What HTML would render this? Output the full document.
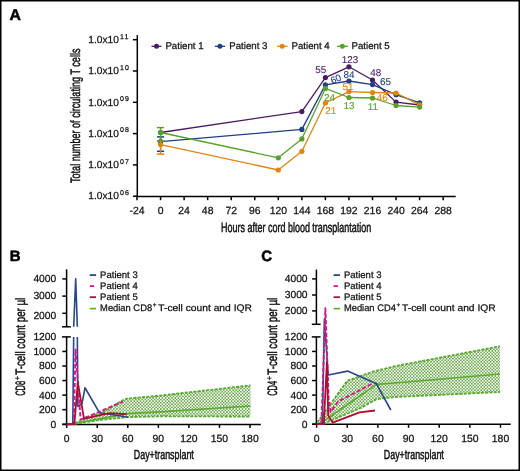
<!DOCTYPE html>
<html><head><meta charset="utf-8"><style>
html,body{margin:0;padding:0;background:#fff;}
#f{position:relative;width:520px;height:471px;overflow:hidden;background:#fff;}
svg{position:absolute;left:0;top:0;will-change:transform;}
text{font-family:"Liberation Sans", sans-serif;text-rendering:geometricPrecision;}
</style></head><body><div id="f">
<svg width="520" height="471" viewBox="0 0 520 471">
<defs>
<pattern id="chkB" width="2" height="2" patternUnits="userSpaceOnUse"><rect width="2" height="2" fill="#fff"/><rect width="1" height="1" fill="#4f9d28"/><rect x="1" y="1" width="1" height="1" fill="#4f9d28"/></pattern>
<pattern id="chkC" width="3.14" height="3.14" patternUnits="userSpaceOnUse"><rect width="3.14" height="3.14" fill="#fff"/><rect x="0.07" y="0.07" width="1.43" height="1.43" fill="#4a9a25"/><rect x="1.64" y="1.64" width="1.43" height="1.43" fill="#4a9a25"/></pattern>
<clipPath id="clBlo"><rect x="60" y="336.9" width="200" height="90"/></clipPath>
<clipPath id="clBup"><rect x="60" y="260" width="200" height="66.8"/></clipPath>
</defs>
<text x="9.60" y="20.40" font-size="15.8" text-anchor="start" fill="#000" font-weight="bold"  stroke="#000" stroke-width="0.5">A</text>
<line x1="137.30" y1="35.10" x2="137.30" y2="197.10" stroke="#000" stroke-width="1.5" />
<line x1="136.35" y1="196.40" x2="455.70" y2="196.40" stroke="#000" stroke-width="1.5" />
<line x1="132.90" y1="39.70" x2="137.30" y2="39.70" stroke="#000" stroke-width="1.5" />
<line x1="132.90" y1="71.00" x2="137.30" y2="71.00" stroke="#000" stroke-width="1.5" />
<line x1="132.90" y1="102.30" x2="137.30" y2="102.30" stroke="#000" stroke-width="1.5" />
<line x1="132.90" y1="133.60" x2="137.30" y2="133.60" stroke="#000" stroke-width="1.5" />
<line x1="132.90" y1="164.90" x2="137.30" y2="164.90" stroke="#000" stroke-width="1.5" />
<line x1="132.90" y1="196.20" x2="137.30" y2="196.20" stroke="#000" stroke-width="1.5" />
<line x1="137.00" y1="196.50" x2="137.00" y2="200.20" stroke="#000" stroke-width="1.5" />
<line x1="160.55" y1="196.50" x2="160.55" y2="200.20" stroke="#000" stroke-width="1.5" />
<line x1="184.10" y1="196.50" x2="184.10" y2="200.20" stroke="#000" stroke-width="1.5" />
<line x1="207.65" y1="196.50" x2="207.65" y2="200.20" stroke="#000" stroke-width="1.5" />
<line x1="231.20" y1="196.50" x2="231.20" y2="200.20" stroke="#000" stroke-width="1.5" />
<line x1="254.75" y1="196.50" x2="254.75" y2="200.20" stroke="#000" stroke-width="1.5" />
<line x1="278.30" y1="196.50" x2="278.30" y2="200.20" stroke="#000" stroke-width="1.5" />
<line x1="301.85" y1="196.50" x2="301.85" y2="200.20" stroke="#000" stroke-width="1.5" />
<line x1="325.40" y1="196.50" x2="325.40" y2="200.20" stroke="#000" stroke-width="1.5" />
<line x1="348.95" y1="196.50" x2="348.95" y2="200.20" stroke="#000" stroke-width="1.5" />
<line x1="372.50" y1="196.50" x2="372.50" y2="200.20" stroke="#000" stroke-width="1.5" />
<line x1="396.05" y1="196.50" x2="396.05" y2="200.20" stroke="#000" stroke-width="1.5" />
<line x1="419.60" y1="196.50" x2="419.60" y2="200.20" stroke="#000" stroke-width="1.5" />
<line x1="443.15" y1="196.50" x2="443.15" y2="200.20" stroke="#000" stroke-width="1.5" />
<text x="88.3" y="42.90" font-size="10.2" fill="#111" stroke="#111" stroke-width="0.25">1.0x10</text>
<text x="119.9" y="38.50" font-size="7" fill="#111" letter-spacing="1.2" stroke="#111" stroke-width="0.25">11</text>
<text x="88.3" y="74.20" font-size="10.2" fill="#111" stroke="#111" stroke-width="0.25">1.0x10</text>
<text x="119.9" y="69.80" font-size="7" fill="#111" letter-spacing="1.2" stroke="#111" stroke-width="0.25">10</text>
<text x="88.3" y="105.50" font-size="10.2" fill="#111" stroke="#111" stroke-width="0.25">1.0x10</text>
<text x="119.9" y="101.10" font-size="7" fill="#111" letter-spacing="1.2" stroke="#111" stroke-width="0.25">09</text>
<text x="88.3" y="136.80" font-size="10.2" fill="#111" stroke="#111" stroke-width="0.25">1.0x10</text>
<text x="119.9" y="132.40" font-size="7" fill="#111" letter-spacing="1.2" stroke="#111" stroke-width="0.25">08</text>
<text x="88.3" y="168.10" font-size="10.2" fill="#111" stroke="#111" stroke-width="0.25">1.0x10</text>
<text x="119.9" y="163.70" font-size="7" fill="#111" letter-spacing="1.2" stroke="#111" stroke-width="0.25">07</text>
<text x="88.3" y="199.40" font-size="10.2" fill="#111" stroke="#111" stroke-width="0.25">1.0x10</text>
<text x="119.9" y="195.00" font-size="7" fill="#111" letter-spacing="1.2" stroke="#111" stroke-width="0.25">06</text>
<text x="137.00" y="213.80" font-size="10.4" text-anchor="middle" fill="#111" font-weight="normal"  stroke="#111" stroke-width="0.25">-24</text>
<text x="160.55" y="213.80" font-size="10.4" text-anchor="middle" fill="#111" font-weight="normal"  stroke="#111" stroke-width="0.25">0</text>
<text x="184.10" y="213.80" font-size="10.4" text-anchor="middle" fill="#111" font-weight="normal"  stroke="#111" stroke-width="0.25">24</text>
<text x="207.65" y="213.80" font-size="10.4" text-anchor="middle" fill="#111" font-weight="normal"  stroke="#111" stroke-width="0.25">48</text>
<text x="231.20" y="213.80" font-size="10.4" text-anchor="middle" fill="#111" font-weight="normal"  stroke="#111" stroke-width="0.25">72</text>
<text x="254.75" y="213.80" font-size="10.4" text-anchor="middle" fill="#111" font-weight="normal"  stroke="#111" stroke-width="0.25">96</text>
<text x="278.30" y="213.80" font-size="10.4" text-anchor="middle" fill="#111" font-weight="normal"  stroke="#111" stroke-width="0.25">120</text>
<text x="301.85" y="213.80" font-size="10.4" text-anchor="middle" fill="#111" font-weight="normal"  stroke="#111" stroke-width="0.25">144</text>
<text x="325.40" y="213.80" font-size="10.4" text-anchor="middle" fill="#111" font-weight="normal"  stroke="#111" stroke-width="0.25">168</text>
<text x="348.95" y="213.80" font-size="10.4" text-anchor="middle" fill="#111" font-weight="normal"  stroke="#111" stroke-width="0.25">192</text>
<text x="372.50" y="213.80" font-size="10.4" text-anchor="middle" fill="#111" font-weight="normal"  stroke="#111" stroke-width="0.25">216</text>
<text x="396.05" y="213.80" font-size="10.4" text-anchor="middle" fill="#111" font-weight="normal"  stroke="#111" stroke-width="0.25">240</text>
<text x="419.60" y="213.80" font-size="10.4" text-anchor="middle" fill="#111" font-weight="normal"  stroke="#111" stroke-width="0.25">264</text>
<text x="443.15" y="213.80" font-size="10.4" text-anchor="middle" fill="#111" font-weight="normal"  stroke="#111" stroke-width="0.25">288</text>
<text transform="translate(80.2,115.75) rotate(-90)" x="0" y="0" font-size="13.6" text-anchor="middle" fill="#111" class="cond" textLength="134.5" lengthAdjust="spacingAndGlyphs" stroke="#111" stroke-width="0.5">Total number of circulating T cells</text>
<text x="221.0" y="231.8" font-size="13.5" fill="#111" class="cond" textLength="150.3" lengthAdjust="spacingAndGlyphs" stroke="#111" stroke-width="0.5">Hours after cord blood transplantation</text>
<line x1="151.50" y1="46.30" x2="161.50" y2="46.30" stroke="#4b1a63" stroke-width="1.3" />
<circle cx="156.5" cy="46.3" r="2.5" fill="#4b1a63"/>
<text x="165.4" y="49.2" font-size="9.7" fill="#111" stroke="#111" stroke-width="0.25">Patient 1</text>
<line x1="214.80" y1="46.30" x2="225.00" y2="46.30" stroke="#1f3f80" stroke-width="1.3" />
<circle cx="219.9" cy="46.3" r="2.5" fill="#1f3f80"/>
<text x="229.2" y="49.2" font-size="9.7" fill="#111" stroke="#111" stroke-width="0.25">Patient 3</text>
<line x1="277.00" y1="46.30" x2="287.50" y2="46.30" stroke="#e0850f" stroke-width="1.3" />
<circle cx="282.2" cy="46.3" r="2.5" fill="#e0850f"/>
<text x="291.5" y="49.2" font-size="9.7" fill="#111" stroke="#111" stroke-width="0.25">Patient 4</text>
<line x1="337.00" y1="46.30" x2="348.00" y2="46.30" stroke="#5aa02a" stroke-width="1.3" />
<circle cx="342.4" cy="46.3" r="2.5" fill="#5aa02a"/>
<text x="351.5" y="49.2" font-size="9.7" fill="#111" stroke="#111" stroke-width="0.25">Patient 5</text>
<polyline points="160.55,132.50 301.85,111.60 325.40,77.60 348.95,66.80 372.50,80.00 396.05,102.10 419.60,105.00" fill="none" stroke="#4b1a63" stroke-width="1.3" stroke-linejoin="round" />
<circle cx="160.55" cy="132.50" r="2.6" fill="#4b1a63"/>
<circle cx="301.85" cy="111.60" r="2.6" fill="#4b1a63"/>
<circle cx="325.40" cy="77.60" r="2.6" fill="#4b1a63"/>
<circle cx="348.95" cy="66.80" r="2.6" fill="#4b1a63"/>
<circle cx="372.50" cy="80.00" r="2.6" fill="#4b1a63"/>
<circle cx="396.05" cy="102.10" r="2.6" fill="#4b1a63"/>
<circle cx="419.60" cy="105.00" r="2.6" fill="#4b1a63"/>
<line x1="160.55" y1="136.90" x2="160.55" y2="151.30" stroke="#1f3f80" stroke-width="1.3" />
<line x1="156.95" y1="136.90" x2="164.15" y2="136.90" stroke="#1f3f80" stroke-width="1.5" />
<line x1="156.95" y1="151.30" x2="164.15" y2="151.30" stroke="#1f3f80" stroke-width="1.5" />
<polyline points="160.55,141.70 301.85,129.40 325.40,84.90 348.95,81.00 372.50,84.60 396.05,94.70 419.60,102.80" fill="none" stroke="#1f3f80" stroke-width="1.3" stroke-linejoin="round" />
<circle cx="160.55" cy="141.70" r="2.6" fill="#1f3f80"/>
<circle cx="301.85" cy="129.40" r="2.6" fill="#1f3f80"/>
<circle cx="325.40" cy="84.90" r="2.6" fill="#1f3f80"/>
<circle cx="348.95" cy="81.00" r="2.6" fill="#1f3f80"/>
<circle cx="372.50" cy="84.60" r="2.6" fill="#1f3f80"/>
<circle cx="396.05" cy="94.70" r="2.6" fill="#1f3f80"/>
<circle cx="419.60" cy="102.80" r="2.6" fill="#1f3f80"/>
<line x1="160.55" y1="141.00" x2="160.55" y2="154.10" stroke="#e0850f" stroke-width="1.3" />
<line x1="156.95" y1="141.00" x2="164.15" y2="141.00" stroke="#e0850f" stroke-width="1.5" />
<line x1="156.95" y1="154.10" x2="164.15" y2="154.10" stroke="#e0850f" stroke-width="1.5" />
<polyline points="160.55,144.60 278.30,170.00 301.85,151.30 325.40,103.00 348.95,91.60 372.50,92.50 396.05,93.00 419.60,104.80" fill="none" stroke="#e0850f" stroke-width="1.3" stroke-linejoin="round" />
<circle cx="160.55" cy="144.60" r="2.6" fill="#e0850f"/>
<circle cx="278.30" cy="170.00" r="2.6" fill="#e0850f"/>
<circle cx="301.85" cy="151.30" r="2.6" fill="#e0850f"/>
<circle cx="325.40" cy="103.00" r="2.6" fill="#e0850f"/>
<circle cx="348.95" cy="91.60" r="2.6" fill="#e0850f"/>
<circle cx="372.50" cy="92.50" r="2.6" fill="#e0850f"/>
<circle cx="396.05" cy="93.00" r="2.6" fill="#e0850f"/>
<circle cx="419.60" cy="104.80" r="2.6" fill="#e0850f"/>
<line x1="160.55" y1="127.60" x2="160.55" y2="140.80" stroke="#5aa02a" stroke-width="1.3" />
<line x1="156.95" y1="127.60" x2="164.15" y2="127.60" stroke="#5aa02a" stroke-width="1.5" />
<line x1="156.95" y1="140.80" x2="164.15" y2="140.80" stroke="#5aa02a" stroke-width="1.5" />
<polyline points="160.55,132.50 278.30,157.80 301.85,138.90 325.40,88.40 348.95,97.50 372.50,98.00 396.05,105.50 419.60,107.10" fill="none" stroke="#5aa02a" stroke-width="1.3" stroke-linejoin="round" />
<circle cx="160.55" cy="132.50" r="2.6" fill="#5aa02a"/>
<circle cx="278.30" cy="157.80" r="2.6" fill="#5aa02a"/>
<circle cx="301.85" cy="138.90" r="2.6" fill="#5aa02a"/>
<circle cx="325.40" cy="88.40" r="2.6" fill="#5aa02a"/>
<circle cx="348.95" cy="97.50" r="2.6" fill="#5aa02a"/>
<circle cx="372.50" cy="98.00" r="2.6" fill="#5aa02a"/>
<circle cx="396.05" cy="105.50" r="2.6" fill="#5aa02a"/>
<circle cx="419.60" cy="107.10" r="2.6" fill="#5aa02a"/>
<text x="320.70" y="73.00" font-size="9.9" text-anchor="middle" fill="#4b1a63" font-weight="normal"  stroke="#4b1a63" stroke-width="0.1">55</text>
<text x="349.90" y="62.90" font-size="9.9" text-anchor="middle" fill="#4b1a63" font-weight="normal"  stroke="#4b1a63" stroke-width="0.1">123</text>
<text x="375.70" y="75.60" font-size="9.9" text-anchor="middle" fill="#4b1a63" font-weight="normal"  stroke="#4b1a63" stroke-width="0.1">48</text>
<text x="348.90" y="78.10" font-size="9.9" text-anchor="middle" fill="#1f3f80" font-weight="normal"  stroke="#1f3f80" stroke-width="0.1">84</text>
<text x="385.60" y="84.50" font-size="9.9" text-anchor="middle" fill="#1f3f80" font-weight="normal"  stroke="#1f3f80" stroke-width="0.1">65</text>
<text x="348.00" y="90.30" font-size="9.9" text-anchor="middle" fill="#e0850f" font-weight="normal"  stroke="#e0850f" stroke-width="0.1">51</text>
<text x="330.80" y="113.50" font-size="9.9" text-anchor="middle" fill="#e0850f" font-weight="normal"  stroke="#e0850f" stroke-width="0.1">21</text>
<text x="382.20" y="100.90" font-size="9.9" text-anchor="middle" fill="#e0850f" font-weight="normal"  stroke="#e0850f" stroke-width="0.1">46</text>
<text x="329.50" y="100.50" font-size="9.9" text-anchor="middle" fill="#5aa02a" font-weight="normal"  stroke="#5aa02a" stroke-width="0.1">24</text>
<text x="349.00" y="108.50" font-size="9.9" text-anchor="middle" fill="#5aa02a" font-weight="normal"  stroke="#5aa02a" stroke-width="0.1">13</text>
<text x="372.80" y="109.60" font-size="9.9" text-anchor="middle" fill="#5aa02a" font-weight="normal"  stroke="#5aa02a" stroke-width="0.1">11</text>
<text transform="translate(335.8,78.8) rotate(-22)" x="0" y="3.4" font-size="9.6" text-anchor="middle" fill="#1f3f80" stroke="#1f3f80" stroke-width="0.1">60</text>
<line x1="66.60" y1="269.30" x2="66.60" y2="326.80" stroke="#000" stroke-width="1.5" />
<line x1="62.00" y1="326.80" x2="70.80" y2="326.80" stroke="#000" stroke-width="1.5" />
<line x1="62.30" y1="278.90" x2="66.60" y2="278.90" stroke="#000" stroke-width="1.5" />
<text x="56.3" y="282.20" font-size="10.3" text-anchor="end" fill="#111" stroke="#111" stroke-width="0.25">4000</text>
<line x1="62.30" y1="296.10" x2="66.60" y2="296.10" stroke="#000" stroke-width="1.5" />
<text x="56.3" y="299.40" font-size="10.3" text-anchor="end" fill="#111" stroke="#111" stroke-width="0.25">3000</text>
<line x1="62.30" y1="313.30" x2="66.60" y2="313.30" stroke="#000" stroke-width="1.5" />
<text x="56.3" y="318.70" font-size="10.3" text-anchor="end" fill="#111" stroke="#111" stroke-width="0.25">2000</text>
<line x1="66.60" y1="336.90" x2="66.60" y2="424.40" stroke="#000" stroke-width="1.5" />
<line x1="62.00" y1="336.90" x2="70.80" y2="336.90" stroke="#000" stroke-width="1.5" />
<text x="56.3" y="340.30" font-size="10.3" text-anchor="end" fill="#111" stroke="#111" stroke-width="0.25">1200</text>
<line x1="62.30" y1="351.45" x2="66.60" y2="351.45" stroke="#000" stroke-width="1.5" />
<text x="56.3" y="354.85" font-size="10.3" text-anchor="end" fill="#111" stroke="#111" stroke-width="0.25">1000</text>
<line x1="62.30" y1="366.00" x2="66.60" y2="366.00" stroke="#000" stroke-width="1.5" />
<text x="56.3" y="369.40" font-size="10.3" text-anchor="end" fill="#111" stroke="#111" stroke-width="0.25">800</text>
<line x1="62.30" y1="380.55" x2="66.60" y2="380.55" stroke="#000" stroke-width="1.5" />
<text x="56.3" y="383.95" font-size="10.3" text-anchor="end" fill="#111" stroke="#111" stroke-width="0.25">600</text>
<line x1="62.30" y1="395.10" x2="66.60" y2="395.10" stroke="#000" stroke-width="1.5" />
<text x="56.3" y="398.50" font-size="10.3" text-anchor="end" fill="#111" stroke="#111" stroke-width="0.25">400</text>
<line x1="62.30" y1="409.65" x2="66.60" y2="409.65" stroke="#000" stroke-width="1.5" />
<text x="56.3" y="413.05" font-size="10.3" text-anchor="end" fill="#111" stroke="#111" stroke-width="0.25">200</text>
<line x1="62.30" y1="424.20" x2="66.60" y2="424.20" stroke="#000" stroke-width="1.5" />
<text x="56.3" y="427.60" font-size="10.3" text-anchor="end" fill="#111" stroke="#111" stroke-width="0.25">0</text>
<line x1="62.30" y1="424.40" x2="260.80" y2="424.40" stroke="#000" stroke-width="1.5" />
<line x1="66.70" y1="424.40" x2="66.70" y2="427.90" stroke="#000" stroke-width="1.5" />
<text x="66.70" y="441.60" font-size="10.4" text-anchor="middle" fill="#111" font-weight="normal"  stroke="#111" stroke-width="0.25">0</text>
<line x1="97.25" y1="424.40" x2="97.25" y2="427.90" stroke="#000" stroke-width="1.5" />
<text x="97.25" y="441.60" font-size="10.4" text-anchor="middle" fill="#111" font-weight="normal"  stroke="#111" stroke-width="0.25">30</text>
<line x1="127.81" y1="424.40" x2="127.81" y2="427.90" stroke="#000" stroke-width="1.5" />
<text x="127.81" y="441.60" font-size="10.4" text-anchor="middle" fill="#111" font-weight="normal"  stroke="#111" stroke-width="0.25">60</text>
<line x1="158.37" y1="424.40" x2="158.37" y2="427.90" stroke="#000" stroke-width="1.5" />
<text x="158.37" y="441.60" font-size="10.4" text-anchor="middle" fill="#111" font-weight="normal"  stroke="#111" stroke-width="0.25">90</text>
<line x1="188.92" y1="424.40" x2="188.92" y2="427.90" stroke="#000" stroke-width="1.5" />
<text x="188.92" y="441.60" font-size="10.4" text-anchor="middle" fill="#111" font-weight="normal"  stroke="#111" stroke-width="0.25">120</text>
<line x1="219.48" y1="424.40" x2="219.48" y2="427.90" stroke="#000" stroke-width="1.5" />
<text x="219.48" y="441.60" font-size="10.4" text-anchor="middle" fill="#111" font-weight="normal"  stroke="#111" stroke-width="0.25">150</text>
<line x1="250.03" y1="424.40" x2="250.03" y2="427.90" stroke="#000" stroke-width="1.5" />
<text x="250.03" y="441.60" font-size="10.4" text-anchor="middle" fill="#111" font-weight="normal"  stroke="#111" stroke-width="0.25">180</text>
<text x="133.8" y="458.6" font-size="13.2" fill="#111" class="cond" textLength="60" lengthAdjust="spacingAndGlyphs" stroke="#111" stroke-width="0.5">Day+transplant</text>
<g transform="translate(25.1,346.85) rotate(-90)"><text x="-49" y="0" font-size="13.6" fill="#111" class="cond" textLength="15" lengthAdjust="spacingAndGlyphs" stroke="#111" stroke-width="0.5">CD8</text><text x="-33.6" y="-5.3" font-size="8" fill="#111" stroke="#111" stroke-width="0.25">+</text><text x="-27.8" y="0" font-size="13.6" fill="#111" class="cond" textLength="76.9" lengthAdjust="spacingAndGlyphs" stroke="#111" stroke-width="0.5">T-cell count per µl</text></g>
<text x="9.80" y="261.20" font-size="15" text-anchor="start" fill="#000" font-weight="bold"  stroke="#000" stroke-width="0.5">B</text>
<line x1="89.80" y1="275.10" x2="96.10" y2="275.10" stroke="#28478a" stroke-width="1.8" />
<line x1="89.80" y1="286.10" x2="96.10" y2="286.10" stroke="#d5168a" stroke-width="1.8" stroke-dasharray="4.3 2"/>
<line x1="89.80" y1="297.20" x2="96.10" y2="297.20" stroke="#b00c30" stroke-width="1.8" />
<line x1="89.80" y1="308.60" x2="96.10" y2="308.60" stroke="#5aaa32" stroke-width="1.6" />
<text x="100.10" y="278.00" font-size="9.5" fill="#111" textLength="37.6" lengthAdjust="spacingAndGlyphs" stroke="#111" stroke-width="0.25">Patient 3</text>
<text x="100.10" y="289.00" font-size="9.5" fill="#111" textLength="37.6" lengthAdjust="spacingAndGlyphs" stroke="#111" stroke-width="0.25">Patient 4</text>
<text x="100.10" y="300.10" font-size="9.5" fill="#111" textLength="37.6" lengthAdjust="spacingAndGlyphs" stroke="#111" stroke-width="0.25">Patient 5</text>
<text x="100.10" y="311.20" font-size="9.5" fill="#111" textLength="52" lengthAdjust="spacingAndGlyphs" stroke="#111" stroke-width="0.25">Median CD8</text>
<text x="152.70" y="307.30" font-size="6.5" fill="#111" stroke="#111" stroke-width="0.25">+</text>
<text x="158.30" y="311.20" font-size="9.5" fill="#111" textLength="93.6" lengthAdjust="spacingAndGlyphs" stroke="#111" stroke-width="0.25">T-cell count and IQR</text>
<line x1="316.40" y1="269.60" x2="316.40" y2="324.30" stroke="#000" stroke-width="1.5" />
<line x1="311.80" y1="324.30" x2="320.60" y2="324.30" stroke="#000" stroke-width="1.5" />
<line x1="312.10" y1="278.90" x2="316.40" y2="278.90" stroke="#000" stroke-width="1.5" />
<text x="307.6" y="282.20" font-size="10.3" text-anchor="end" fill="#111" stroke="#111" stroke-width="0.25">4000</text>
<line x1="312.10" y1="295.00" x2="316.40" y2="295.00" stroke="#000" stroke-width="1.5" />
<text x="307.6" y="298.30" font-size="10.3" text-anchor="end" fill="#111" stroke="#111" stroke-width="0.25">3000</text>
<line x1="312.10" y1="310.90" x2="316.40" y2="310.90" stroke="#000" stroke-width="1.5" />
<text x="307.6" y="314.20" font-size="10.3" text-anchor="end" fill="#111" stroke="#111" stroke-width="0.25">2000</text>
<line x1="316.40" y1="336.90" x2="316.40" y2="424.30" stroke="#000" stroke-width="1.5" />
<line x1="311.80" y1="336.90" x2="320.60" y2="336.90" stroke="#000" stroke-width="1.5" />
<text x="307.6" y="340.30" font-size="10.3" text-anchor="end" fill="#111" stroke="#111" stroke-width="0.25">1200</text>
<line x1="312.10" y1="351.45" x2="316.40" y2="351.45" stroke="#000" stroke-width="1.5" />
<text x="307.6" y="354.85" font-size="10.3" text-anchor="end" fill="#111" stroke="#111" stroke-width="0.25">1000</text>
<line x1="312.10" y1="366.00" x2="316.40" y2="366.00" stroke="#000" stroke-width="1.5" />
<text x="307.6" y="369.40" font-size="10.3" text-anchor="end" fill="#111" stroke="#111" stroke-width="0.25">800</text>
<line x1="312.10" y1="380.55" x2="316.40" y2="380.55" stroke="#000" stroke-width="1.5" />
<text x="307.6" y="383.95" font-size="10.3" text-anchor="end" fill="#111" stroke="#111" stroke-width="0.25">600</text>
<line x1="312.10" y1="395.10" x2="316.40" y2="395.10" stroke="#000" stroke-width="1.5" />
<text x="307.6" y="398.50" font-size="10.3" text-anchor="end" fill="#111" stroke="#111" stroke-width="0.25">400</text>
<line x1="312.10" y1="409.65" x2="316.40" y2="409.65" stroke="#000" stroke-width="1.5" />
<text x="307.6" y="413.05" font-size="10.3" text-anchor="end" fill="#111" stroke="#111" stroke-width="0.25">200</text>
<line x1="312.10" y1="424.20" x2="316.40" y2="424.20" stroke="#000" stroke-width="1.5" />
<text x="307.6" y="427.60" font-size="10.3" text-anchor="end" fill="#111" stroke="#111" stroke-width="0.25">0</text>
<line x1="312.10" y1="424.30" x2="510.70" y2="424.30" stroke="#000" stroke-width="1.5" />
<line x1="316.60" y1="424.30" x2="316.60" y2="427.80" stroke="#000" stroke-width="1.5" />
<text x="316.60" y="441.60" font-size="10.4" text-anchor="middle" fill="#111" font-weight="normal"  stroke="#111" stroke-width="0.25">0</text>
<line x1="347.25" y1="424.30" x2="347.25" y2="427.80" stroke="#000" stroke-width="1.5" />
<text x="347.25" y="441.60" font-size="10.4" text-anchor="middle" fill="#111" font-weight="normal"  stroke="#111" stroke-width="0.25">30</text>
<line x1="377.90" y1="424.30" x2="377.90" y2="427.80" stroke="#000" stroke-width="1.5" />
<text x="377.90" y="441.60" font-size="10.4" text-anchor="middle" fill="#111" font-weight="normal"  stroke="#111" stroke-width="0.25">60</text>
<line x1="408.55" y1="424.30" x2="408.55" y2="427.80" stroke="#000" stroke-width="1.5" />
<text x="408.55" y="441.60" font-size="10.4" text-anchor="middle" fill="#111" font-weight="normal"  stroke="#111" stroke-width="0.25">90</text>
<line x1="439.20" y1="424.30" x2="439.20" y2="427.80" stroke="#000" stroke-width="1.5" />
<text x="439.20" y="441.60" font-size="10.4" text-anchor="middle" fill="#111" font-weight="normal"  stroke="#111" stroke-width="0.25">120</text>
<line x1="469.86" y1="424.30" x2="469.86" y2="427.80" stroke="#000" stroke-width="1.5" />
<text x="469.86" y="441.60" font-size="10.4" text-anchor="middle" fill="#111" font-weight="normal"  stroke="#111" stroke-width="0.25">150</text>
<line x1="500.51" y1="424.30" x2="500.51" y2="427.80" stroke="#000" stroke-width="1.5" />
<text x="500.51" y="441.60" font-size="10.4" text-anchor="middle" fill="#111" font-weight="normal"  stroke="#111" stroke-width="0.25">180</text>
<text x="383.8" y="458.6" font-size="13.2" fill="#111" class="cond" textLength="60" lengthAdjust="spacingAndGlyphs" stroke="#111" stroke-width="0.5">Day+transplant</text>
<g transform="translate(276.9,346.85) rotate(-90)"><text x="-49" y="0" font-size="13.6" fill="#111" class="cond" textLength="15" lengthAdjust="spacingAndGlyphs" stroke="#111" stroke-width="0.5">CD4</text><text x="-33.6" y="-5.3" font-size="8" fill="#111" stroke="#111" stroke-width="0.25">+</text><text x="-27.8" y="0" font-size="13.6" fill="#111" class="cond" textLength="76.9" lengthAdjust="spacingAndGlyphs" stroke="#111" stroke-width="0.5">T-cell count per µl</text></g>
<text x="261.30" y="261.20" font-size="15" text-anchor="start" fill="#000" font-weight="bold"  stroke="#000" stroke-width="0.5">C</text>
<line x1="333.60" y1="275.10" x2="339.90" y2="275.10" stroke="#28478a" stroke-width="1.8" />
<line x1="333.60" y1="286.10" x2="339.90" y2="286.10" stroke="#d5168a" stroke-width="1.8" stroke-dasharray="4.3 2"/>
<line x1="333.60" y1="297.20" x2="339.90" y2="297.20" stroke="#b00c30" stroke-width="1.8" />
<line x1="333.60" y1="308.60" x2="339.90" y2="308.60" stroke="#5aaa32" stroke-width="1.6" />
<text x="343.90" y="278.00" font-size="9.5" fill="#111" textLength="37.6" lengthAdjust="spacingAndGlyphs" stroke="#111" stroke-width="0.25">Patient 3</text>
<text x="343.90" y="289.00" font-size="9.5" fill="#111" textLength="37.6" lengthAdjust="spacingAndGlyphs" stroke="#111" stroke-width="0.25">Patient 4</text>
<text x="343.90" y="300.10" font-size="9.5" fill="#111" textLength="37.6" lengthAdjust="spacingAndGlyphs" stroke="#111" stroke-width="0.25">Patient 5</text>
<text x="343.90" y="311.20" font-size="9.5" fill="#111" textLength="52" lengthAdjust="spacingAndGlyphs" stroke="#111" stroke-width="0.25">Median CD4</text>
<text x="396.50" y="307.30" font-size="6.5" fill="#111" stroke="#111" stroke-width="0.25">+</text>
<text x="402.10" y="311.20" font-size="9.5" fill="#111" textLength="93.6" lengthAdjust="spacingAndGlyphs" stroke="#111" stroke-width="0.25">T-cell count and IQR</text>
<path d="M74.60,423.20 L105.00,411.00 L122.80,400.20 L127.50,398.60 L160.00,395.60 L250.50,385.40 L250.50,416.50 L160.00,416.30 L127.70,417.10 L100.00,420.00 L74.60,423.80 Z" fill="url(#chkC)" stroke="none"/>
<polyline points="74.60,423.20 105.00,411.00 122.80,400.20 127.50,398.60 160.00,395.60 250.50,385.40" fill="none" stroke="#5aaa32" stroke-width="1.9" stroke-linejoin="round" stroke-dasharray="3 1.3"/>
<polyline points="74.60,423.80 100.00,420.00 127.70,417.10 160.00,416.30 250.50,416.50" fill="none" stroke="#5aaa32" stroke-width="1.9" stroke-linejoin="round" stroke-dasharray="3 1.3"/>
<polyline points="74.60,423.50 127.70,413.60 160.00,411.90 250.50,406.00" fill="none" stroke="#5aaa32" stroke-width="1.6" stroke-linejoin="round" />
<g clip-path="url(#clBlo)">
<polyline points="66.70,424.20 72.80,424.20 75.70,134.20 77.90,406.44 82.00,403.68 85.00,387.73 99.40,412.67 109.80,414.19 128.20,417.31" fill="none" stroke="#28478a" stroke-width="1.6" stroke-linejoin="round" />
</g>
<g clip-path="url(#clBup)">
<polyline points="66.70,347.70 72.80,347.70 75.70,278.90 77.90,343.49 82.00,342.83 85.00,339.05 99.40,344.97 109.80,345.33 128.20,346.07" fill="none" stroke="#28478a" stroke-width="1.6" stroke-linejoin="round" />
</g>
<g clip-path="url(#clBlo)">
<polyline points="66.70,424.20 73.90,424.20 75.50,349.38 80.60,419.70 123.00,401.51" fill="none" stroke="#d5168a" stroke-width="1.9" stroke-linejoin="round" stroke-dasharray="4.3 2"/>
</g>
<g clip-path="url(#clBlo)">
<polyline points="66.70,424.20 74.40,424.20 77.80,382.37 84.00,418.69 109.80,413.11 126.50,414.19" fill="none" stroke="#b00c30" stroke-width="1.8" stroke-linejoin="round" />
</g>
<path d="M317.30,422.50 L347.30,380.80 L373.50,371.50 L395.00,366.20 L500.00,346.30 L500.00,392.00 L395.00,397.00 L376.50,399.20 L361.20,407.70 L330.40,420.80 L323.30,424.00 Z" fill="url(#chkC)" stroke="none"/>
<polyline points="317.30,422.50 347.30,380.80 373.50,371.50 395.00,366.20 500.00,346.30" fill="none" stroke="#5aaa32" stroke-width="1.9" stroke-linejoin="round" stroke-dasharray="3 1.3"/>
<polyline points="323.30,424.00 330.40,420.80 361.20,407.70 376.50,399.20 395.00,397.00 500.00,392.00" fill="none" stroke="#5aaa32" stroke-width="1.9" stroke-linejoin="round" stroke-dasharray="3 1.3"/>
<polyline points="320.00,423.50 329.60,417.00 376.50,384.40 395.00,383.00 500.00,374.00" fill="none" stroke="#5aaa32" stroke-width="1.6" stroke-linejoin="round" />
<polyline points="316.60,424.00 322.40,424.00 324.40,319.10 328.20,375.00 347.60,371.10 376.50,383.80 390.80,410.00" fill="none" stroke="#28478a" stroke-width="1.6" stroke-linejoin="round" />
<polyline points="316.60,424.00 321.40,424.00 325.40,308.30 328.70,400.00 330.60,412.00 338.00,401.50 373.50,383.00" fill="none" stroke="#d5168a" stroke-width="1.9" stroke-linejoin="round" stroke-dasharray="4.3 2"/>
<polyline points="316.60,424.00 323.80,424.00 326.90,362.30 328.20,415.40 332.60,422.60 359.60,412.30 375.00,410.50" fill="none" stroke="#b00c30" stroke-width="1.8" stroke-linejoin="round" />
<rect x="0.75" y="0.75" width="518.5" height="469.5" fill="none" stroke="#000" stroke-width="1.5"/>
</svg></div></body></html>
